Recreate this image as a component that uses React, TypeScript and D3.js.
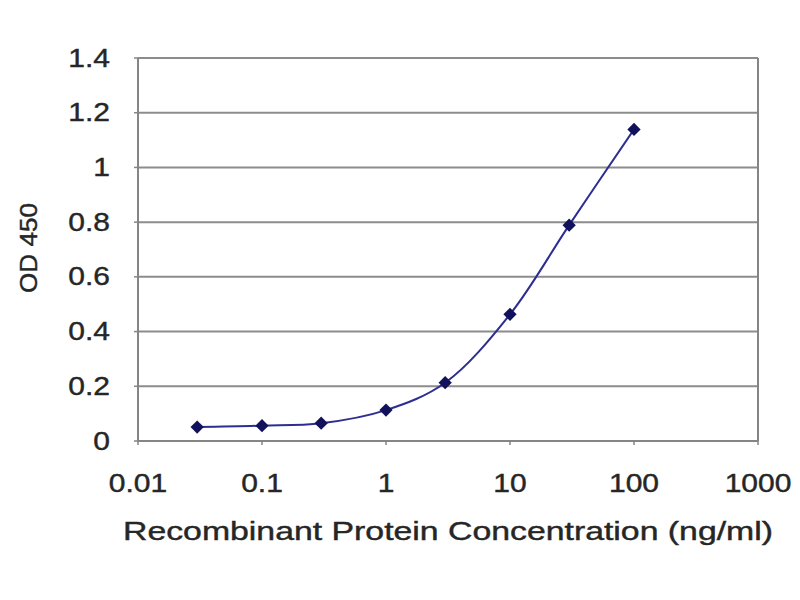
import React from 'react';
import * as d3 from 'd3';

// Concentration (ng/ml) and measured OD 450
const concentrations = [0.03, 0.1, 0.3, 1, 3, 10, 30, 100];
const odValues = [0.051, 0.056, 0.065, 0.113, 0.213, 0.463, 0.789, 1.139];
const xTicks = [0.01, 0.1, 1, 10, 100, 1000];
const xTickLabels = ['0.01', '0.1', '1', '10', '100', '1000'];
const yTicks = [0, 0.2, 0.4, 0.6, 0.8, 1, 1.2, 1.4];
const yTickLabels = ['0', '0.2', '0.4', '0.6', '0.8', '1', '1.2', '1.4'];

const width = 800;
const height = 600;
const plot = { left: 138, right: 758, top: 58, bottom: 441 };
const font = '"Liberation Sans", Arial, sans-serif';
const stretch = 1.2; // labels in the picture are a little wider than Arial
const textColor = '#262626';

export default function App() {
  const x = d3.scaleLog().domain([0.01, 1000]).range([plot.left, plot.right]);
  const y = d3.scaleLinear().domain([0, 1.4]).range([plot.bottom, plot.top]);

  const points = concentrations.map((c, i) => ({ x: x(c), y: y(odValues[i]) }));

  const line = d3.line<{ x: number; y: number }>()
    .x(d => d.x)
    .y(d => d.y)
    .curve(d3.curveCatmullRom.alpha(0.5));

  const marker = d3.symbol().type(d3.symbolSquare).size(88)() || '';

  return (
    <div style={{ position: 'absolute', left: 0, top: 0 }}>
      <svg width={width} height={height} style={{ display: 'block', background: '#fff' }}>
        {/* gridlines */}
        {yTicks.map(t => (
          <line key={`g-${t}`} x1={plot.left} x2={plot.right} y1={y(t)} y2={y(t)}
            stroke="#8c8c8c" strokeWidth={2} />
        ))}
        {/* plot frame: left, bottom, right */}
        <line x1={plot.left} x2={plot.left} y1={plot.top} y2={plot.bottom} stroke="#858585" strokeWidth={2} />
        <line x1={plot.right} x2={plot.right} y1={plot.top} y2={plot.bottom} stroke="#858585" strokeWidth={2} />
        <line x1={plot.left} x2={plot.right} y1={plot.bottom} y2={plot.bottom} stroke="#858585" strokeWidth={2} />

        {/* y ticks + labels */}
        {yTicks.map((t, i) => (
          <g key={`yt-${t}`}>
            <line x1={plot.left - 4} x2={plot.left} y1={y(t)} y2={y(t)} stroke="#858585" strokeWidth={1.5} />
            <text transform={`translate(110,${y(t)}) scale(${stretch},1)`} textAnchor="end"
              dominantBaseline="central" fontFamily={font} fontSize={25} fill={textColor}
              stroke={textColor} strokeWidth={0.4}>
              {yTickLabels[i]}
            </text>
          </g>
        ))}

        {/* x ticks + labels */}
        {xTicks.map((t, i) => (
          <g key={`xt-${t}`}>
            <line x1={x(t)} x2={x(t)} y1={plot.bottom} y2={plot.bottom + 4} stroke="#858585" strokeWidth={1.5} />
            <text transform={`translate(${x(t)},${plot.bottom + 51}) scale(${stretch},1)`} textAnchor="middle"
              fontFamily={font} fontSize={25} fill={textColor} stroke={textColor} strokeWidth={0.4}>
              {xTickLabels[i]}
            </text>
          </g>
        ))}

        {/* data line */}
        <path d={line(points) || ''} fill="none" stroke="#2e2e90" strokeWidth={2} />
        {points.map((p, i) => (
          <path key={`m-${i}`} d={marker} transform={`translate(${p.x},${p.y}) rotate(45)`} fill="#12125c" />
        ))}

        {/* axis titles */}
        <text x={(plot.left + plot.right) / 2} y={540} textAnchor="middle" fontFamily={font}
          fontSize={25} fill={textColor} stroke={textColor} strokeWidth={0.4}
          textLength={650} lengthAdjust="spacingAndGlyphs">
          Recombinant Protein Concentration (ng/ml)
        </text>
        <text transform={`translate(37,248) rotate(-90)`} textAnchor="middle" fontFamily={font}
          fontSize={24} fill={textColor} stroke={textColor} strokeWidth={0.4}
          textLength={90} lengthAdjust="spacingAndGlyphs">
          OD 450
        </text>
      </svg>
    </div>
  );
}
